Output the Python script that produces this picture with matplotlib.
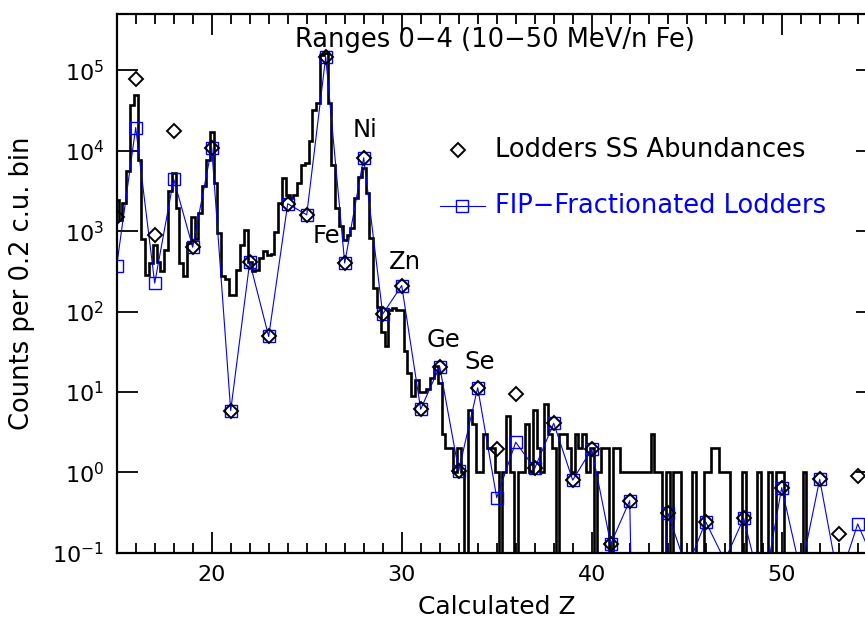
import numpy as np
import matplotlib
matplotlib.use("Agg")
import matplotlib.pyplot as plt
from matplotlib.ticker import MultipleLocator, FixedLocator, LogFormatterSciNotation

# ---------------- data ----------------
# element abundances (per integer Z)
elem_z = list(range(15, 56))
lodders_ss = [1500, 7.9e4, 890, 1.78e4, 632, 1.09e4, 5.86, 413, 49, 2.2e3,
              1.6e3, 1.48e5, 402, 8.2e3, 93, 211, 6.1, 20.7, 1.05, 11.3,
              1.94, 9.4, 1.12, 4.08, 0.80, 1.94, 0.128, 0.445, 0.0, 0.315,
              0.063, 0.243, 0.08, 0.268, 0.03, 0.645, 0.057, 0.82, 0.171, 0.91,
              0.065]
fip_lodders = [372, 1.95e4, 226, 4.46e3, 632, 1.09e4, 5.86, 413, 49, 2.2e3,
               1.6e3, 1.48e5, 402, 8.2e3, 93, 211, 6.1, 20.7, 1.05, 11.3,
               0.484, 2.37, 1.12, 4.08, 0.80, 1.94, 0.128, 0.445, 0.0, 0.315,
               0.063, 0.243, 0.08, 0.268, 0.03, 0.645, 0.057, 0.82, 0.043, 0.228,
               0.065]

# histogram of calculated Z, bins of 0.2 c.u. centred on 15.0, 15.2, ... 55.0
hist_start = 15.0
hist_step = 0.2
hist_counts = [
    # 15.0 - 16.8
    2450, 1380, 2240, 5560, 37150, 50100, 7760, 794, 288, 398,
    # 17.0 - 18.8
    676, 417, 316, 589, 3160, 5250, 1950, 398, 275, 708,
    # 19.0 - 20.8
    1510, 794, 1700, 3630, 7760, 17400, 3980, 955, 275, 251,
    # 21.0 - 22.8
    162, 162, 331, 676, 1050, 417, 316, 331, 468, 562,
    # 23.0 - 24.8
    501, 525, 977, 2240, 4570, 2820, 2570, 2820, 3980, 6760,
    # 25.0 - 26.8
    7080, 13200, 32400, 39800, 155000, 166000, 39800, 6760, 1950, 1150,
    # 27.0 - 28.8
    776, 891, 1100, 2570, 4790, 6170, 2950, 813, 195, 115,
    # 29.0 - 30.8
    56, 37, 105, 110, 105, 105, 32, 17, 9, 14,
    # 31.0 - 32.8
    10, 10, 11, 15, 21, 13, 3, 2, 2, 1,
    # 33.0 - 34.8
    2, 1, 0, 6, 4, 1, 1, 3, 2, 2,
    # 35.0 - 36.8
    1, 0, 1, 5, 1, 0, 1, 1, 4, 1,
    # 37.0 - 38.8
    6, 2, 1, 7, 3, 2, 0, 3, 3, 2,
    # 39.0 - 40.8
    1, 3, 2, 3, 1, 2, 0, 1, 2, 2,
    # 41.0 - 42.8
    0, 2, 2, 1, 1, 1, 1, 1, 1, 1,
    # 43.0 - 44.8
    1, 3, 1, 1, 0, 1, 0, 1, 1, 0,
    # 45.0 - 46.8
    0, 0, 1, 0, 0, 1, 1, 2, 2, 1,
    # 47.0 - 48.8
    1, 1, 0, 0, 0, 1, 0, 0, 0, 1,
    # 49.0 - 50.8
    0, 0, 1, 0, 1, 1, 0, 0, 0, 0,
    # 51.0 - 52.8
    0, 1, 0, 0, 0, 0, 0, 0, 0, 0,
    # 53.0 - 55.0
    0, 0, 0, 0, 0, 0, 0, 0, 0, 0, 0,
]

y_ticks = [1e-1, 1e0, 1e1, 1e2, 1e3, 1e4, 1e5]
x_ticks = [20, 30, 40, 50]

labels = ["Fe", "Ni", "Zn", "Ge", "Se"]
title_text = "Ranges 0\u22124 (10\u221250 MeV/n Fe)"
legend_labels = ["Lodders SS Abundances", "FIP\u2212Fractionated Lodders"]

# ---------------- figure ----------------
plt.rcParams['font.family'] = ['DejaVu Sans']
plt.rcParams['mathtext.default'] = 'regular'
W, H = 865, 624
fig = plt.figure(figsize=(W / 100, H / 100), dpi=100)
ax_l, ax_r, ax_t, ax_b = 116.7, 876.7, 14.3, 552.7
ax = fig.add_axes([ax_l / W, 1 - ax_b / H, (ax_r - ax_l) / W, (ax_b - ax_t) / H])

tiny = 1e-12
counts = np.array(hist_counts, dtype=float)
centers = hist_start + hist_step * np.arange(len(counts))
edges = np.concatenate([centers - hist_step / 2, [centers[-1] + hist_step / 2]])
ax.stairs(np.where(counts > 0, counts, tiny), edges, baseline=None,
          color='black', lw=1.9)

z = np.array(elem_z, dtype=float)
lod = np.array(lodders_ss, dtype=float)
fip = np.array(fip_lodders, dtype=float)
ax.plot(z, np.where(fip > 0, fip, tiny), color='#0000ff', lw=0.8,
        marker='s', ms=8.5, mfc='none', mec='#0000ff', mew=1.0)
ax.plot(z, np.where(lod > 0, lod, tiny), ls='none', marker='D', ms=7,
        mfc='none', mec='black', mew=1.4)

ax.set_yscale('log')
ax.set_xlim(15, 55)
ax.set_ylim(0.1, 5e5)

ax.xaxis.set_major_locator(FixedLocator(x_ticks))
ax.xaxis.set_minor_locator(MultipleLocator(1))
ax.yaxis.set_major_locator(FixedLocator(y_ticks))
ax.yaxis.set_major_formatter(LogFormatterSciNotation())
ax.yaxis.set_minor_locator(FixedLocator([]))
ax.tick_params(which='both', direction='in', top=True, right=True,
               labelsize=16, width=1.3, colors='black')
ax.tick_params(which='major', length=15, pad=9)
ax.tick_params(which='minor', length=7)
for s in ax.spines.values():
    s.set_linewidth(1.6)

ax.set_xlabel("Calculated Z", fontsize=18)
ax.set_ylabel("Counts per 0.2 c.u. bin", fontsize=18.5)
ax.xaxis.label.set_va('center')
ax.yaxis.label.set_va('center')
ax.xaxis.set_label_coords(0.5, (ax_b - 607) / (ax_b - ax_t))
ax.yaxis.set_label_coords((22 - ax_l) / (ax_r - ax_l), (ax_b - 283) / (ax_b - ax_t))


def axpos(px, py):
    return ((px - ax_l) / (ax_r - ax_l), (ax_b - py) / (ax_b - ax_t))


ax.text(*axpos(495, 40), title_text, transform=ax.transAxes, fontsize=18.5,
        ha='center', va='center')

label_px = [(326, 236), (365, 130), (405, 262), (443, 340), (480, 362)]
for lab, (px, py) in zip(labels, label_px):
    ax.text(*axpos(px, py), lab, transform=ax.transAxes, fontsize=17.5,
            ha='center', va='center')

# legend
x0, y0 = axpos(458, 150)
ax.plot([x0], [y0], transform=ax.transAxes, marker='D', ms=7, mfc='none',
        mec='black', mew=1.4, clip_on=False)
ax.text(*axpos(495, 150), legend_labels[0], transform=ax.transAxes,
        fontsize=18.5, ha='left', va='center')
xa, ya = axpos(440, 206)
xb, _ = axpos(485, 206)
xs, _ = axpos(462, 206)
ax.plot([xa, xb], [ya, ya], transform=ax.transAxes, color='#0000ff', lw=0.8)
ax.plot([xs], [ya], transform=ax.transAxes, marker='s', ms=8.5, mfc='none',
        mec='#0000ff', mew=1.0)
ax.text(*axpos(495, 206), legend_labels[1], transform=ax.transAxes,
        fontsize=18.5, ha='left', va='center', color='#0000ff')

fig.savefig("out.png", dpi=100)
